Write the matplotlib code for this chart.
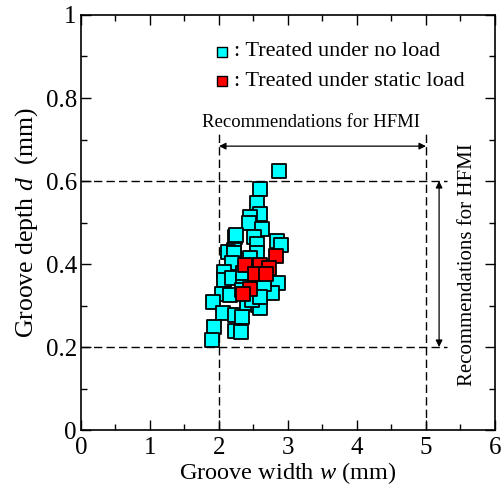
import matplotlib
matplotlib.use("Agg")
import matplotlib.pyplot as plt
from matplotlib.ticker import MultipleLocator, FuncFormatter

plt.rcParams['font.family'] = ['Liberation Serif', 'DejaVu Serif']
plt.rcParams['mathtext.fontset'] = 'custom'
plt.rcParams['mathtext.it'] = 'Liberation Serif:italic'
plt.rcParams['mathtext.rm'] = 'Liberation Serif'

# Data: treated under no load (cyan)
noload_w = [2.87, 2.59, 2.55, 2.59, 2.45, 2.43, 2.62, 2.51, 2.55, 2.23, 2.84, 2.90,
            2.22, 2.13, 2.22, 2.19, 2.07, 2.07, 2.19, 2.35, 2.35, 2.04, 2.16, 1.91,
            2.06, 2.23, 2.33, 2.41, 2.57, 2.59, 2.70, 2.86, 2.77, 1.93, 1.90, 2.23,
            2.32, 2.55, 2.45, 2.65, 2.33, 2.48, 2.25, 2.60]
noload_d = [0.624, 0.581, 0.547, 0.520, 0.513, 0.499, 0.484, 0.465, 0.448, 0.465, 0.455, 0.446,
            0.434, 0.429, 0.427, 0.402, 0.381, 0.361, 0.366, 0.357, 0.378, 0.328, 0.325, 0.308,
            0.282, 0.277, 0.272, 0.306, 0.301, 0.294, 0.345, 0.354, 0.330, 0.248, 0.217, 0.239,
            0.236, 0.427, 0.415, 0.352, 0.337, 0.313, 0.470, 0.320]

# Data: treated under static load (red)
static_w = [2.83, 2.38, 2.59, 2.72, 2.52, 2.68, 2.45, 2.35]
static_d = [0.419, 0.398, 0.398, 0.390, 0.376, 0.376, 0.340, 0.328]

xticks = [0, 1, 2, 3, 4, 5, 6]
yticks = [0, 0.2, 0.4, 0.6, 0.8, 1]

fig = plt.figure(figsize=(5.04, 4.95), dpi=100)
ax = fig.add_axes([0.1607, 0.1313, 0.8214, 0.8384])

ax.set_xlim(0, 6)
ax.set_ylim(0, 1)

dash = (0, (6, 3))
ax.plot([2, 2], [0, 0.715], color='black', lw=1.0, linestyle=dash, zorder=1)
ax.plot([5, 5], [0, 0.715], color='black', lw=1.0, linestyle=dash, zorder=1)
ax.plot([0, 5.3], [0.6, 0.6], color='black', lw=1.0, linestyle=dash, zorder=1)
ax.plot([0, 5.3], [0.2, 0.2], color='black', lw=1.0, linestyle=dash, zorder=1)

ax.annotate('', xy=(2, 0.684), xytext=(5, 0.684),
            arrowprops=dict(arrowstyle='<|-|>', color='black', lw=0.9,
                            mutation_scale=10, shrinkA=0, shrinkB=0))
ax.text(3.34, 0.742, 'Recommendations for HFMI', ha='center', va='center', fontsize=13.5)

ax.annotate('', xy=(5.19, 0.2), xytext=(5.19, 0.6),
            arrowprops=dict(arrowstyle='<|-|>', color='black', lw=0.9,
                            mutation_scale=10, shrinkA=0, shrinkB=0))
ax.text(5.6, 0.398, 'Recommendations for HFMI', ha='center', va='center',
        rotation=90, fontsize=15)

ax.scatter(noload_w, noload_d, marker='s', s=95, facecolor='#00FFFF',
           edgecolor='black', linewidths=1.3, zorder=3)
ax.scatter(static_w, static_d, marker='s', s=95, facecolor='#FF0000',
           edgecolor='black', linewidths=1.3, zorder=4)

# legend (manual)
ax.scatter([2.05], [0.912], marker='s', s=55, facecolor='#00FFFF',
           edgecolor='black', linewidths=1.0, zorder=5)
ax.text(2.22, 0.912, ': Treated under no load', ha='left', va='center', fontsize=16)
ax.scatter([2.05], [0.84], marker='s', s=55, facecolor='#FF0000',
           edgecolor='black', linewidths=1.0, zorder=5)
ax.text(2.22, 0.84, ': Treated under static load', ha='left', va='center', fontsize=16)

ax.set_xticks(xticks)
ax.set_yticks(yticks)
ax.xaxis.set_minor_locator(MultipleLocator(0.5))
ax.yaxis.set_minor_locator(MultipleLocator(0.1))
ax.yaxis.set_major_formatter(FuncFormatter(lambda v, p: '%g' % v))
ax.xaxis.set_major_formatter(FuncFormatter(lambda v, p: '%g' % v))
ax.tick_params(which='both', direction='in', top=True, right=True, labelsize=18)
ax.tick_params(which='major', length=7, width=1.0)
ax.tick_params(which='minor', length=4, width=1.0)
ax.tick_params(axis='x', pad=5)
ax.tick_params(axis='y', pad=3)
for s in ax.spines.values():
    s.set_linewidth(1.2)

ax.set_xlabel(r'Groove width $w$ (mm)', fontsize=17.5, labelpad=1)
ax.set_ylabel(r'Groove depth $d$  (mm)', fontsize=18.5, labelpad=4)

fig.savefig('out.png', dpi=100)
